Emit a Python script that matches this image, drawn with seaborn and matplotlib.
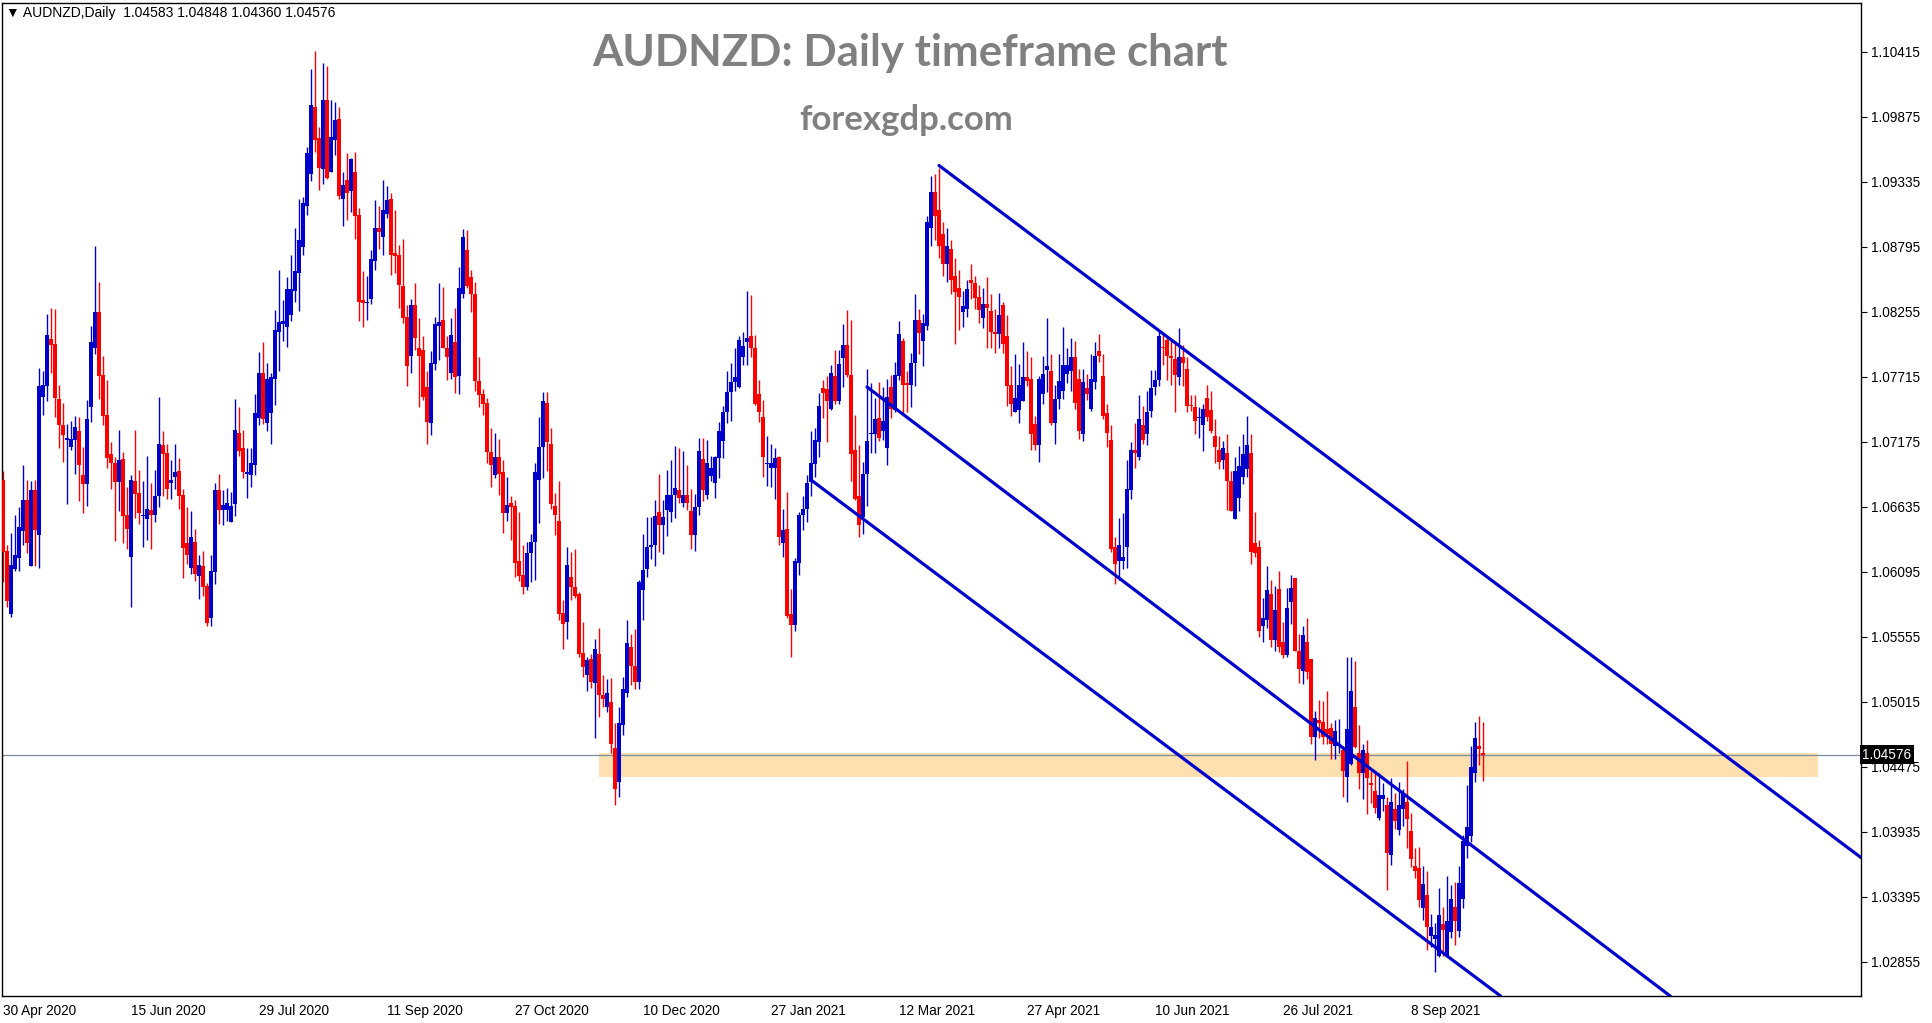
import numpy as np
import pandas as pd
import seaborn as sns
import matplotlib.pyplot as plt

# AUDNZD daily candles, in pips (1 pip = 0.0001)
opens = [
    10686, 10627, 10574, 10612, 10621, 10643, 10669, 10614, 10677, 10640,
    10755, 10764, 10803, 10799, 10753, 10731, 10719, 10713, 10719, 10726,
    10690, 10682, 10746, 10795, 10825, 10773, 10740, 10707, 10700, 10684,
    10703, 10657, 10622, 10685, 10675, 10656, 10653, 10661, 10657, 10672,
    10715, 10708, 10683, 10688, 10693, 10673, 10633, 10613, 10634, 10606,
    10614, 10598, 10571, 10609, 10677, 10661, 10661, 10651, 10666, 10725,
    10712, 10691, 10690, 10698, 10737, 10775, 10733, 10741, 10770, 10809,
    10815, 10813, 10823, 10843, 10858, 10879, 10913, 10940, 10996, 10970,
    10944, 11001, 10942, 10968, 10986, 10919, 10935, 10926, 10942, 10906,
    10835, 10833, 10836, 10868, 10895, 10888, 10907, 10919, 10874, 10873,
    10847, 10821, 10789, 10831, 10795, 10794, 10763, 10733, 10782, 10814,
    10819, 10795, 10775, 10800, 10772, 10840, 10877, 10854, 10840, 10768,
    10757, 10750, 10709, 10690, 10705, 10692, 10658, 10667, 10664, 10618,
    10607, 10597, 10625, 10634, 10686, 10713, 10750, 10716, 10664, 10652,
    10575, 10568, 10605, 10597, 10591, 10542, 10524, 10537, 10517, 10541,
    10507, 10497, 10501, 10463, 10435, 10482, 10509, 10547, 10531, 10518,
    10594, 10612, 10630, 10632, 10659, 10648, 10661, 10659, 10673, 10677,
    10667, 10673, 10660, 10640, 10663, 10703, 10673, 10689, 10683, 10704,
    10718, 10742, 10759, 10767, 10763, 10788, 10800, 10805, 10795, 10757,
    10738, 10699, 10696, 10696, 10705, 10633, 10645, 10574, 10565, 10617,
    10657, 10662, 10684, 10699, 10717, 10762, 10761, 10745, 10772, 10751,
    10787, 10798, 10773, 10711, 10672, 10655, 10691, 10724, 10724, 10737,
    10726, 10712, 10763, 10744, 10772, 10801, 10766, 10765, 10783, 10819,
    10801, 10814, 10895, 10925, 10910, 10890, 10865, 10878, 10855, 10845,
    10825, 10828, 10852, 10849, 10838, 10820, 10832, 10826, 10809, 10807,
    10831, 10805, 10765, 10742, 10744, 10751, 10771, 10770, 10732, 10715,
    10757, 10777, 10776, 10733, 10753, 10760, 10774, 10776, 10788, 10770,
    10724, 10762, 10745, 10767, 10793, 10772, 10741, 10719, 10630, 10618,
    10618, 10630, 10677, 10711, 10705, 10731, 10724, 10743, 10763, 10769,
    10796, 10802, 10789, 10786, 10771, 10788, 10778, 10748, 10746, 10737,
    10731, 10754, 10744, 10722, 10711, 10702, 10708, 10685, 10653, 10671,
    10688, 10695, 10708, 10633, 10630, 10564, 10569, 10591, 10553, 10595,
    10551, 10540, 10584, 10604, 10544, 10527, 10551, 10537, 10472, 10486,
    10485, 10479, 10480, 10465, 10465, 10461, 10439, 10450, 10497, 10459,
    10442, 10459, 10434, 10427, 10405, 10421, 10416, 10374, 10412, 10395,
    10412, 10418, 10394, 10365, 10363, 10330, 10341, 10307, 10304, 10290,
    10317, 10290, 10310, 10331, 10311, 10338, 10382, 10390, 10442, 10465,
    10458.3,
]
highs = [
    10693, 10632, 10642, 10657, 10663, 10698, 10686, 10685, 10686, 10779,
    10776, 10824, 10829, 10828, 10765, 10750, 10732, 10735, 10739, 10738,
    10713, 10752, 10814, 10880, 10850, 10789, 10769, 10717, 10705, 10727,
    10709, 10680, 10690, 10727, 10694, 10685, 10706, 10683, 10694, 10755,
    10726, 10716, 10702, 10716, 10704, 10678, 10663, 10660, 10645, 10623,
    10627, 10600, 10623, 10683, 10691, 10677, 10679, 10676, 10753, 10746,
    10727, 10712, 10712, 10757, 10792, 10800, 10783, 10775, 10827, 10860,
    10835, 10854, 10873, 10895, 10919, 10921, 10962, 11027, 11042, 10979,
    11032, 11030, 11001, 11000, 10996, 10942, 10957, 10953, 10958, 10912,
    10859, 10855, 10877, 10918, 10913, 10935, 10930, 10924, 10910, 10881,
    10886, 10831, 10836, 10849, 10820, 10805, 10776, 10793, 10821, 10849,
    10846, 10805, 10820, 10829, 10863, 10894, 10893, 10860, 10850, 10788,
    10761, 10754, 10729, 10725, 10720, 10702, 10688, 10672, 10669, 10659,
    10632, 10634, 10641, 10700, 10738, 10759, 10759, 10729, 10675, 10685,
    10586, 10630, 10626, 10628, 10593, 10568, 10539, 10541, 10554, 10563,
    10524, 10520, 10521, 10484, 10497, 10522, 10569, 10558, 10562, 10603,
    10641, 10655, 10655, 10669, 10691, 10669, 10694, 10702, 10714, 10712,
    10710, 10698, 10678, 10674, 10721, 10721, 10719, 10706, 10706, 10734,
    10747, 10776, 10783, 10795, 10805, 10809, 10843, 10839, 10806, 10769,
    10752, 10722, 10716, 10712, 10706, 10662, 10676, 10595, 10621, 10659,
    10672, 10690, 10726, 10729, 10758, 10769, 10772, 10781, 10794, 10794,
    10815, 10827, 10819, 10740, 10715, 10701, 10778, 10766, 10754, 10767,
    10763, 10770, 10773, 10784, 10818, 10804, 10776, 10791, 10840, 10828,
    10824, 10905, 10938, 10940, 10945, 10900, 10895, 10885, 10870, 10860,
    10843, 10852, 10865, 10855, 10848, 10845, 10854, 10840, 10828, 10841,
    10834, 10823, 10780, 10790, 10782, 10800, 10793, 10788, 10739, 10772,
    10789, 10820, 10790, 10765, 10790, 10813, 10795, 10804, 10801, 10778,
    10778, 10774, 10790, 10800, 10807, 10790, 10749, 10731, 10638, 10654,
    10658, 10702, 10717, 10733, 10756, 10747, 10760, 10777, 10777, 10810,
    10808, 10805, 10802, 10801, 10812, 10798, 10788, 10756, 10756, 10746,
    10749, 10765, 10760, 10736, 10722, 10718, 10724, 10693, 10705, 10714,
    10724, 10739, 10724, 10659, 10636, 10588, 10614, 10603, 10598, 10610,
    10568, 10596, 10607, 10604, 10558, 10564, 10571, 10537, 10494, 10503,
    10502, 10510, 10484, 10486, 10487, 10465, 10539, 10539, 10535, 10482,
    10466, 10470, 10444, 10444, 10442, 10434, 10422, 10438, 10426, 10435,
    10429, 10452, 10409, 10380, 10381, 10365, 10361, 10325, 10318, 10347,
    10331, 10357, 10349, 10352, 10365, 10391, 10432, 10465, 10485, 10490,
    10484.8,
]
lows = [
    10601, 10580, 10572, 10610, 10610, 10632, 10625, 10614, 10614, 10613,
    10740, 10751, 10775, 10738, 10712, 10701, 10666, 10711, 10691, 10668,
    10658, 10664, 10734, 10790, 10753, 10731, 10696, 10678, 10635, 10660,
    10633, 10628, 10580, 10654, 10649, 10630, 10636, 10628, 10651, 10663,
    10672, 10670, 10670, 10678, 10662, 10604, 10616, 10608, 10602, 10587,
    10589, 10564, 10564, 10599, 10649, 10648, 10652, 10651, 10656, 10706,
    10687, 10671, 10680, 10690, 10731, 10732, 10726, 10716, 10748, 10776,
    10801, 10796, 10818, 10834, 10826, 10873, 10906, 10934, 10958, 10927,
    10932, 10936, 10942, 10956, 10919, 10897, 10902, 10908, 10886, 10818,
    10813, 10819, 10832, 10860, 10878, 10873, 10903, 10856, 10858, 10829,
    10816, 10764, 10775, 10794, 10746, 10752, 10716, 10723, 10777, 10785,
    10795, 10769, 10770, 10758, 10757, 10837, 10845, 10825, 10760, 10746,
    10740, 10700, 10680, 10687, 10673, 10642, 10652, 10636, 10605, 10602,
    10591, 10594, 10601, 10603, 10650, 10687, 10693, 10662, 10640, 10569,
    10545, 10554, 10586, 10588, 10539, 10522, 10510, 10513, 10471, 10489,
    10497, 10493, 10459, 10416, 10422, 10474, 10505, 10515, 10512, 10512,
    10569, 10605, 10620, 10614, 10626, 10624, 10639, 10651, 10654, 10667,
    10663, 10661, 10628, 10627, 10657, 10668, 10670, 10685, 10671, 10687,
    10704, 10733, 10735, 10760, 10762, 10781, 10781, 10788, 10748, 10734,
    10688, 10681, 10680, 10670, 10632, 10622, 10571, 10539, 10560, 10607,
    10644, 10651, 10672, 10688, 10705, 10737, 10717, 10744, 10749, 10749,
    10763, 10771, 10685, 10669, 10638, 10641, 10664, 10708, 10708, 10718,
    10719, 10698, 10737, 10742, 10769, 10741, 10742, 10746, 10764, 10790,
    10780, 10810, 10880, 10885, 10870, 10855, 10850, 10840, 10799, 10810,
    10813, 10821, 10836, 10828, 10816, 10812, 10795, 10795, 10791, 10795,
    10791, 10747, 10739, 10742, 10733, 10751, 10764, 10711, 10711, 10701,
    10749, 10759, 10731, 10716, 10745, 10753, 10766, 10760, 10745, 10720,
    10718, 10752, 10743, 10761, 10784, 10736, 10713, 10626, 10599, 10603,
    10612, 10613, 10670, 10696, 10702, 10716, 10715, 10738, 10756, 10764,
    10781, 10769, 10765, 10742, 10765, 10764, 10742, 10743, 10724, 10721,
    10710, 10735, 10725, 10700, 10695, 10695, 10661, 10660, 10653, 10660,
    10682, 10688, 10616, 10622, 10555, 10551, 10563, 10547, 10544, 10543,
    10538, 10539, 10566, 10544, 10517, 10516, 10520, 10466, 10453, 10471,
    10466, 10466, 10454, 10454, 10459, 10422, 10418, 10449, 10463, 10429,
    10421, 10408, 10417, 10409, 10403, 10411, 10345, 10366, 10396, 10391,
    10398, 10380, 10364, 10355, 10331, 10320, 10295, 10298, 10277, 10289,
    10290, 10290, 10305, 10299, 10306, 10330, 10372, 10385, 10435, 10449,
    10436.0,
]
closes = [
    10626, 10585, 10615, 10623, 10647, 10669, 10633, 10677, 10644, 10764,
    10765, 10806, 10798, 10754, 10731, 10723, 10721, 10720, 10730, 10698,
    10682, 10736, 10800, 10825, 10772, 10739, 10704, 10700, 10684, 10702,
    10656, 10645, 10686, 10674, 10658, 10657, 10662, 10657, 10672, 10716,
    10707, 10678, 10686, 10692, 10672, 10629, 10623, 10638, 10608, 10615,
    10597, 10567, 10610, 10677, 10661, 10665, 10667, 10664, 10727, 10710,
    10692, 10692, 10700, 10741, 10775, 10736, 10770, 10771, 10810, 10817,
    10818, 10844, 10844, 10859, 10885, 10916, 10957, 10997, 10968, 10945,
    11001, 10937, 10971, 10985, 10922, 10931, 10924, 10952, 10905, 10834,
    10833, 10834, 10869, 10895, 10892, 10910, 10918, 10873, 10872, 10848,
    10820, 10780, 10831, 10804, 10789, 10755, 10734, 10783, 10815, 10817,
    10795, 10788, 10806, 10771, 10845, 10888, 10847, 10840, 10768, 10756,
    10749, 10709, 10698, 10705, 10691, 10658, 10665, 10663, 10617, 10606,
    10597, 10625, 10634, 10692, 10713, 10751, 10717, 10666, 10657, 10574,
    10566, 10615, 10597, 10589, 10541, 10530, 10536, 10518, 10545, 10507,
    10504, 10509, 10466, 10429, 10484, 10512, 10550, 10531, 10518, 10601,
    10611, 10630, 10632, 10656, 10648, 10655, 10673, 10673, 10679, 10671,
    10673, 10667, 10640, 10663, 10710, 10677, 10700, 10696, 10705, 10726,
    10742, 10759, 10767, 10771, 10802, 10797, 10804, 10795, 10749, 10742,
    10705, 10700, 10700, 10704, 10638, 10644, 10573, 10565, 10618, 10657,
    10662, 10683, 10700, 10719, 10747, 10758, 10751, 10775, 10751, 10782,
    10798, 10773, 10707, 10670, 10648, 10691, 10718, 10725, 10736, 10721,
    10735, 10755, 10745, 10773, 10807, 10765, 10765, 10783, 10819, 10808,
    10816, 10900, 10925, 10905, 10880, 10865, 10880, 10852, 10842, 10838,
    10830, 10844, 10849, 10837, 10827, 10832, 10829, 10809, 10807, 10823,
    10799, 10764, 10749, 10754, 10765, 10771, 10768, 10724, 10715, 10770,
    10774, 10780, 10733, 10753, 10768, 10781, 10781, 10788, 10750, 10726,
    10767, 10757, 10770, 10789, 10789, 10739, 10725, 10628, 10616, 10632,
    10622, 10678, 10711, 10708, 10736, 10719, 10742, 10762, 10769, 10805,
    10795, 10789, 10787, 10773, 10788, 10783, 10747, 10747, 10735, 10738,
    10745, 10738, 10726, 10713, 10701, 10712, 10685, 10660, 10693, 10697,
    10707, 10715, 10626, 10625, 10560, 10571, 10594, 10553, 10578, 10547,
    10540, 10579, 10596, 10544, 10529, 10557, 10526, 10472, 10488, 10484,
    10472, 10475, 10466, 10477, 10466, 10444, 10479, 10510, 10464, 10442,
    10461, 10438, 10432, 10413, 10424, 10424, 10376, 10418, 10402, 10416,
    10426, 10404, 10371, 10361, 10337, 10350, 10314, 10314, 10308, 10324,
    10312, 10319, 10338, 10319, 10351, 10386, 10397, 10447, 10471, 10462,
    10457.6,
]

# x axis labels (every 32 bars) and right-hand price scale
date_ticks = [0, 32, 64, 96, 128, 160, 192, 224, 256, 288, 320, 352]
date_labels = ["30 Apr 2020", "15 Jun 2020", "29 Jul 2020", "11 Sep 2020",
               "27 Oct 2020", "10 Dec 2020", "27 Jan 2021", "12 Mar 2021",
               "27 Apr 2021", "10 Jun 2021", "26 Jul 2021", "8 Sep 2021"]
price_ticks = [1.10415, 1.09875, 1.09335, 1.08795, 1.08255, 1.07715, 1.07175,
               1.06635, 1.06095, 1.05555, 1.05015, 1.04475, 1.03935, 1.03395,
               1.02855]

# descending channel lines (start bar/price -> end bar/price)
line_x0 = [234, 216, 202.3]
line_y0 = [1.0947, 1.0763, 1.0685]
line_x1 = [464.5, 416.8, 374.4]
line_y1 = [1.0372, 1.0257, 1.0257]

# support zone and last price
zone_bars = [149, 453.75]
zone_low, zone_high = 1.0439, 1.0459
last_price = 1.04576

df = pd.DataFrame({"open": opens, "high": highs, "low": lows, "close": closes}) / 10000
df["bar"] = np.arange(len(df))
df["up"] = df["close"] >= df["open"]

BLUE = "#0000CC"
RED = "#FF0000"
AXIS_FS = 9.8

sns.set_style("white")
plt.rcParams["font.family"] = ["Liberation Sans", "DejaVu Sans"]

fig = plt.figure(figsize=(19.33, 10.23), dpi=100)
ax = fig.add_axes([2 / 1933, 27 / 1023, 1859 / 1933, 993 / 1023])
ax.set_xlim(-0.25, 464.5)
ax.set_ylim(1.0257, 1.1082)

# zone + last price line
ax.fill_between(zone_bars, zone_low, zone_high, color="#FDDFB0", lw=0, zorder=0)
ax.axhline(last_price, color="#7A8B9A", lw=0.9, zorder=1)

# candles
colors = np.where(df["up"], BLUE, RED)
ax.vlines(df["bar"], df["low"], df["high"], colors=colors, lw=1.0, zorder=2)
body_lo = np.minimum(df["open"], df["close"])
body_h = np.maximum((df["close"] - df["open"]).abs(), 0.00009)
ax.bar(df["bar"], body_h, bottom=body_lo, width=0.78, color=colors, lw=0, zorder=3)

# channel
for x0, y0, x1, y1 in zip(line_x0, line_y0, line_x1, line_y1):
    sns.lineplot(x=[x0, x1], y=[y0, y1], color=BLUE, lw=2.3, ax=ax, zorder=4)

# axes look (MT4 style)
for s in ax.spines.values():
    s.set_color("black")
    s.set_linewidth(1)
ax.yaxis.tick_right()
ax.set_yticks(price_ticks)
ax.set_yticklabels([f"{p:.5f}" for p in price_ticks])
ax.set_xticks(date_ticks)
ax.set_xticklabels(date_labels, ha="left")
ax.tick_params(axis="both", direction="out", length=4, width=0.8, color="black",
               labelsize=AXIS_FS, labelcolor="black")
ax.tick_params(axis="y", pad=3)
ax.tick_params(axis="x", pad=2)
ax.set_xlabel("")
ax.set_ylabel("")

# current price tag
ax.text(1.0008, last_price, f"{last_price:.5f}", transform=ax.get_yaxis_transform(),
        ha="left", va="center", color="white", fontsize=AXIS_FS,
        bbox=dict(facecolor="black", edgecolor="none", pad=1.8), zorder=6, clip_on=False)

# header texts
fig.text(6 / 1933, 1 - 13 / 1023, "▼ AUDNZD,Daily  1.04583 1.04848 1.04360 1.04576",
         ha="left", va="center", fontsize=10, color="black")
fig.text(910 / 1933, 1 - 66 / 1023, "AUDNZD: Daily timeframe chart", ha="center",
         va="baseline", fontsize=31.5, fontweight="bold", color="#808080",
         family=["Lato", "DejaVu Sans"])
fig.text(906 / 1933, 1 - 130 / 1023, "forexgdp.com", ha="center", va="baseline",
         fontsize=25, fontweight="bold", color="#808080", family=["Lato", "DejaVu Sans"])

fig.savefig("out.png", dpi=100)
